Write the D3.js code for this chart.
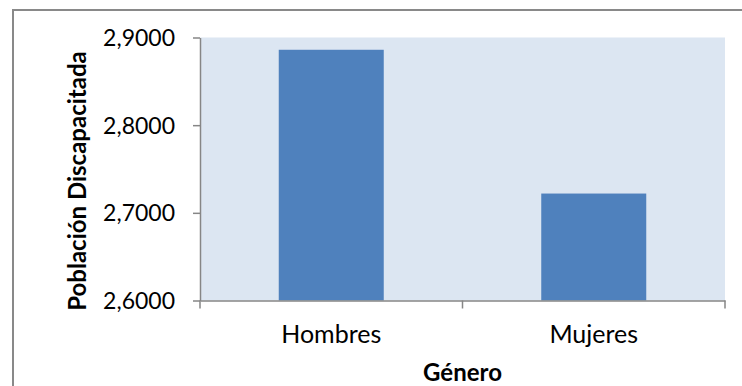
<!DOCTYPE html>
<html>
<head>
<meta charset="utf-8">
<script src="https://cdn.jsdelivr.net/npm/d3@7"></script>
<style>
  html, body { margin: 0; padding: 0; background: #ffffff; }
  svg { display: block; }
  text { font-family: Lato, "Noto Sans", sans-serif; fill: #000; }
</style>
</head>
<body>
<svg id="chart" width="742" height="386"></svg>
<script>
// Chart data
const categories = ["Hombres", "Mujeres"];
const values = [2.886, 2.722];
const yTicks = [2.6, 2.7, 2.8, 2.9];
const yTitle = "Población Discapacitada";
const xTitle = "Género";

const plot = { left: 200, right: 725, top: 37.5, bottom: 300.5 };

const svg = d3.select("#chart");

// outer chart frame
svg.append("rect")
  .attr("x", 13).attr("y", 10)
  .attr("width", 760).attr("height", 420)
  .attr("fill", "#ffffff")
  .attr("stroke", "#898989").attr("stroke-width", 2);

// plot area background
svg.append("rect")
  .attr("x", plot.left).attr("y", plot.top)
  .attr("width", plot.right - plot.left).attr("height", plot.bottom - plot.top)
  .attr("fill", "#dce6f2");

const x = d3.scaleBand()
  .domain(categories)
  .range([plot.left, plot.right])
  .paddingInner(0.6)
  .paddingOuter(0.3);

const y = d3.scaleLinear()
  .domain([2.6, 2.9])
  .range([plot.bottom, plot.top]);

// bars
svg.append("g")
  .selectAll("rect")
  .data(categories.map((c, i) => ({ c, v: values[i] })))
  .join("rect")
  .attr("x", d => x(d.c))
  .attr("width", x.bandwidth())
  .attr("y", d => y(d.v))
  .attr("height", d => y(2.6) - y(d.v))
  .attr("fill", "#4f81bd");

const fmt = v => v.toFixed(4).replace(".", ",");

// value axis
const yAxis = svg.append("g")
  .attr("transform", `translate(${plot.left},0)`)
  .call(d3.axisLeft(y).tickValues(yTicks).tickFormat(fmt).tickSize(7).tickSizeOuter(0));
yAxis.select(".domain").attr("stroke", "#868686").attr("stroke-width", 1.5);
yAxis.selectAll(".tick line").attr("stroke", "#868686").attr("stroke-width", 1.5);
yAxis.selectAll(".tick text")
  .attr("x", -25)
  .attr("dy", "0.35em")
  .style("font-size", "23px")
  .style("font-family", "Lato, 'Noto Sans', sans-serif")
  .attr("fill", "#000");

// category axis
const xAxis = svg.append("g")
  .attr("transform", `translate(0,${plot.bottom})`)
  .call(d3.axisBottom(x).tickSize(0).tickSizeOuter(0));
xAxis.select(".domain").attr("stroke", "#868686").attr("stroke-width", 1.5);
xAxis.selectAll(".tick text")
  .attr("y", 42)
  .attr("dy", 0)
  .style("font-size", "25px")
  .style("font-family", "Lato, 'Noto Sans', sans-serif")
  .attr("fill", "#000");

// category separators on the bottom axis
const edges = [plot.left, ...categories.slice(1).map(c => x(c) - x.step() * x.paddingInner() / 2), plot.right];
xAxis.selectAll("line.sep")
  .data(edges)
  .join("line")
  .attr("class", "sep")
  .attr("x1", d => d).attr("x2", d => d)
  .attr("y1", 0).attr("y2", 8)
  .attr("stroke", "#868686").attr("stroke-width", 1.5);

// axis titles
svg.append("text")
  .attr("transform", `translate(86,${(plot.top + plot.bottom) / 2 + 12}) rotate(-90)`)
  .attr("text-anchor", "middle")
  .style("font-size", "24px")
  .style("font-weight", "bold")
  .text(yTitle);

svg.append("text")
  .attr("x", (plot.left + plot.right) / 2)
  .attr("y", 381)
  .attr("text-anchor", "middle")
  .style("font-size", "24px")
  .style("font-weight", "bold")
  .text(xTitle);
</script>
</body>
</html>
